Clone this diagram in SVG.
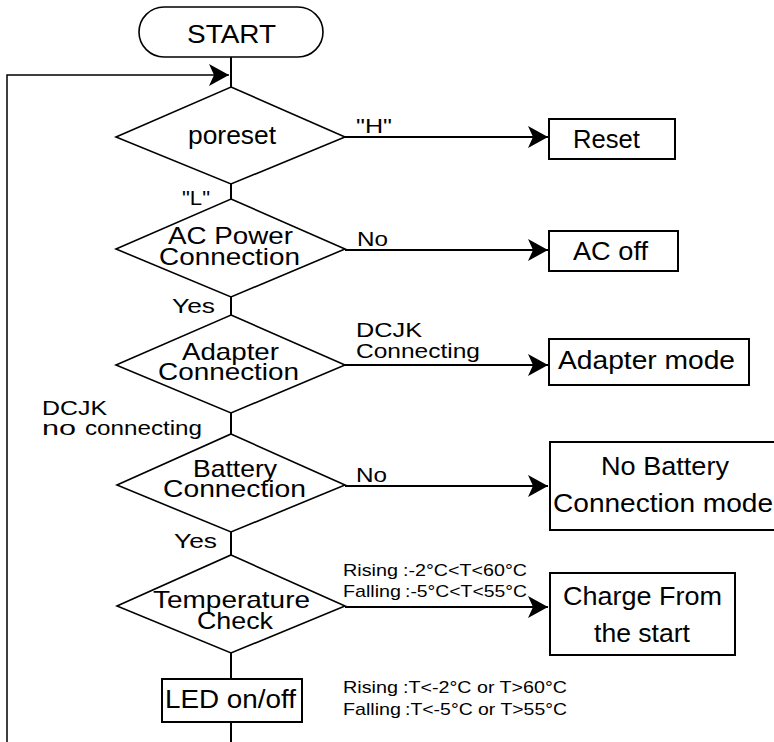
<svg xmlns="http://www.w3.org/2000/svg" width="774" height="742" viewBox="0 0 774 742">
<style>
  .shape { fill: #fff; stroke: #000; stroke-width: 1.6; }
  .box { fill: #fff; stroke: #000; stroke-width: 2; }
  .conn { fill: none; stroke: #000; stroke-width: 2; }
  .thin { fill: none; stroke: #000; stroke-width: 1.5; }
  text { font-family: "Liberation Sans", Arial, sans-serif; fill: #000; }
  .big { font-size: 25px; }
  .two { font-size: 24px; }
  .lbl { font-size: 20px; }
  .sm { font-size: 17px; }
</style>
<defs>
  <marker id="arr" viewBox="0 0 20 22" refX="20" refY="11" markerWidth="20" markerHeight="22" markerUnits="userSpaceOnUse" orient="auto">
    <path d="M0,0 L20,11 L0,22 L5,11 Z" fill="#000"/>
  </marker>
</defs>

<g id="connectors">
  <line class="conn" x1="231" y1="57" x2="231" y2="87"/>
  <path class="thin" d="M7,742 L7,75 L229,75" marker-end="url(#arr)"/>
  <line class="conn" x1="345" y1="137" x2="548" y2="137" marker-end="url(#arr)"/>
  <line class="conn" x1="231" y1="184" x2="231" y2="199"/>
  <line class="conn" x1="345" y1="250" x2="548" y2="250" marker-end="url(#arr)"/>
  <line class="conn" x1="231" y1="297" x2="231" y2="315"/>
  <line class="conn" x1="345" y1="365" x2="548" y2="365" marker-end="url(#arr)"/>
  <line class="conn" x1="231" y1="413" x2="231" y2="434"/>
  <line class="conn" x1="345" y1="486" x2="548" y2="486" marker-end="url(#arr)"/>
  <line class="conn" x1="231" y1="532" x2="231" y2="555"/>
  <line class="conn" x1="345" y1="607" x2="548" y2="607" marker-end="url(#arr)"/>
  <line class="conn" x1="231" y1="653" x2="231" y2="679"/>
  <line class="conn" x1="231" y1="722" x2="231" y2="742"/>
</g>

<g id="labels">
  <text class="lbl" x="356" y="133" textLength="36" lengthAdjust="spacingAndGlyphs">"H"</text>
  <text class="lbl" x="182" y="205" textLength="28" lengthAdjust="spacingAndGlyphs">"L"</text>
  <text class="lbl" x="357" y="246" textLength="31" lengthAdjust="spacingAndGlyphs">No</text>
  <text class="lbl" x="172" y="313" textLength="43" lengthAdjust="spacingAndGlyphs">Yes</text>
  <text class="lbl" x="356" y="337" textLength="66" lengthAdjust="spacingAndGlyphs">DCJK</text>
  <text class="lbl" x="356" y="358" textLength="124" lengthAdjust="spacingAndGlyphs">Connecting</text>
  <text class="lbl" x="42" y="415" textLength="65" lengthAdjust="spacingAndGlyphs">DCJK</text>
  <text class="lbl" y="435"><tspan x="42" textLength="34" lengthAdjust="spacingAndGlyphs">no</tspan><tspan x="85" textLength="117" lengthAdjust="spacingAndGlyphs">connecting</tspan></text>
  <text class="lbl" x="356" y="482" textLength="31" lengthAdjust="spacingAndGlyphs">No</text>
  <text class="lbl" x="174" y="548" textLength="43" lengthAdjust="spacingAndGlyphs">Yes</text>
  <text class="sm" y="576"><tspan x="343" textLength="55" lengthAdjust="spacingAndGlyphs">Rising</tspan><tspan x="403" textLength="124" lengthAdjust="spacingAndGlyphs">:-2°C&lt;T&lt;60°C</tspan></text>
  <text class="sm" y="597"><tspan x="343" textLength="58" lengthAdjust="spacingAndGlyphs">Falling</tspan><tspan x="405" textLength="122" lengthAdjust="spacingAndGlyphs">:-5°C&lt;T&lt;55°C</tspan></text>
  <text class="sm" y="693"><tspan x="343" textLength="55" lengthAdjust="spacingAndGlyphs">Rising</tspan><tspan x="403" textLength="164" lengthAdjust="spacingAndGlyphs">:T&lt;-2°C or T&gt;60°C</tspan></text>
  <text class="sm" y="715"><tspan x="343" textLength="58" lengthAdjust="spacingAndGlyphs">Falling</tspan><tspan x="405" textLength="162" lengthAdjust="spacingAndGlyphs">:T&lt;-5°C or T&gt;55°C</tspan></text>
</g>

<g id="start">
  <rect class="shape" x="139" y="7" width="184" height="50" rx="25" ry="25"/>
  <text class="big" x="187" y="43" textLength="89" lengthAdjust="spacingAndGlyphs">START</text>
</g>

<g id="poreset">
  <polygon class="shape" points="231,87 345,137 231,184 116,137"/>
  <text class="big" x="188" y="144" textLength="88" lengthAdjust="spacingAndGlyphs">poreset</text>
</g>

<g id="reset">
  <rect class="box" x="549" y="119" width="126" height="40"/>
  <text class="big" x="573" y="148" textLength="67" lengthAdjust="spacingAndGlyphs">Reset</text>
</g>

<g id="ac-power">
  <polygon class="shape" points="231,199 345,249 231,297 116,249"/>
  <text class="two" x="168" y="244" textLength="125" lengthAdjust="spacingAndGlyphs">AC Power</text>
  <text class="two" x="159" y="265" textLength="141" lengthAdjust="spacingAndGlyphs">Connection</text>
</g>

<g id="ac-off">
  <rect class="box" x="549" y="231" width="129" height="40"/>
  <text class="big" x="573" y="260" textLength="75" lengthAdjust="spacingAndGlyphs">AC off</text>
</g>

<g id="adapter">
  <polygon class="shape" points="231,315 345,365 231,413 116,365"/>
  <text class="two" x="182" y="360" textLength="97" lengthAdjust="spacingAndGlyphs">Adapter</text>
  <text class="two" x="158" y="380" textLength="141" lengthAdjust="spacingAndGlyphs">Connection</text>
</g>

<g id="adapter-mode">
  <rect class="box" x="549" y="339" width="200" height="46"/>
  <text class="big" x="558" y="369" textLength="177" lengthAdjust="spacingAndGlyphs">Adapter mode</text>
</g>

<g id="battery">
  <polygon class="shape" points="231,434 345,485 231,532 117,485"/>
  <text class="two" x="193" y="477" textLength="84" lengthAdjust="spacingAndGlyphs">Battery</text>
  <text class="two" x="163" y="497" textLength="143" lengthAdjust="spacingAndGlyphs">Connection</text>
</g>

<g id="no-battery">
  <rect class="box" x="550" y="442" width="228" height="88"/>
  <text class="big" x="601" y="475" textLength="128" lengthAdjust="spacingAndGlyphs">No Battery</text>
  <text class="big" x="553" y="512" textLength="220" lengthAdjust="spacingAndGlyphs">Connection mode</text>
</g>

<g id="temperature">
  <polygon class="shape" points="231,555 345,606 231,653 117,606"/>
  <text class="two" x="153" y="608" textLength="157" lengthAdjust="spacingAndGlyphs">Temperature</text>
  <text class="two" x="197" y="629" textLength="76" lengthAdjust="spacingAndGlyphs">Check</text>
</g>

<g id="charge">
  <rect class="box" x="550" y="573" width="185" height="82"/>
  <text class="big" x="563" y="605" textLength="159" lengthAdjust="spacingAndGlyphs">Charge From</text>
  <text class="big" x="594" y="642" textLength="96" lengthAdjust="spacingAndGlyphs">the start</text>
</g>

<g id="led">
  <rect class="box" x="162" y="679" width="140" height="43"/>
  <text class="big" x="165" y="708" textLength="131" lengthAdjust="spacingAndGlyphs">LED on/off</text>
</g>
</svg>
